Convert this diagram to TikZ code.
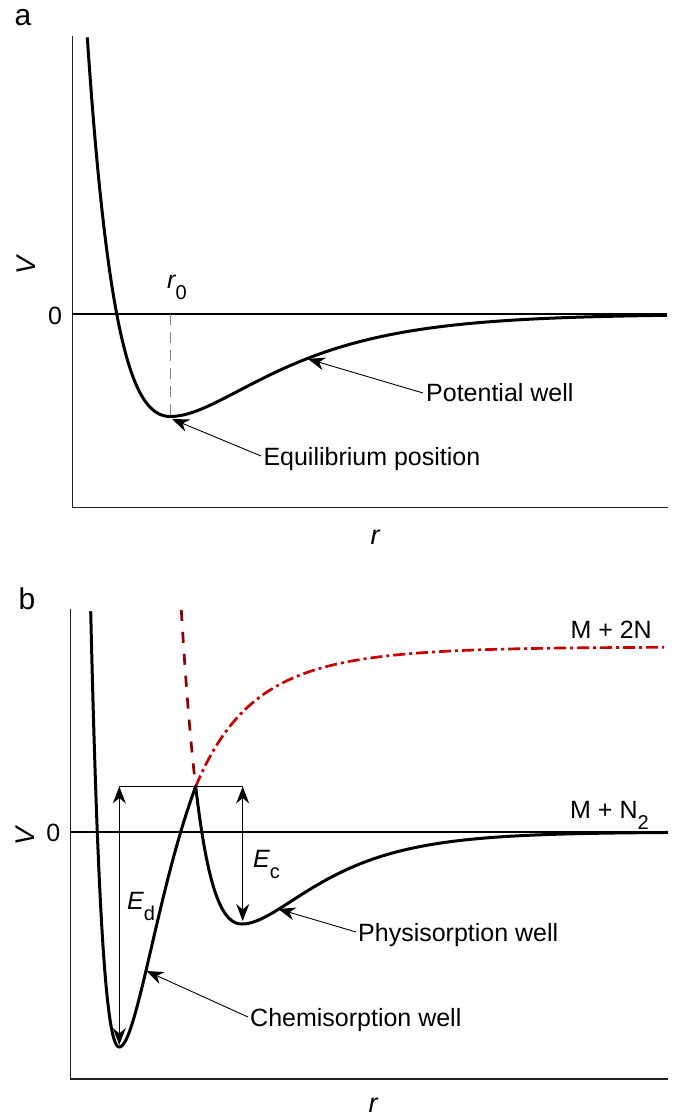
\documentclass[tikz,border=0pt]{standalone}
\usepackage{fontspec}
\setmainfont{Liberation Sans}
\usetikzlibrary{arrows.meta}
\definecolor{dred}{HTML}{8B0000}
\definecolor{mred}{HTML}{C80000}
\definecolor{axgray}{HTML}{222222}
\newcommand{\sbs}[1]{\raisebox{-11pt}{\fontsize{20}{20}\selectfont #1}}
\begin{document}
\begin{tikzpicture}[x=1pt,y=-1pt,
  curve/.style={line width=3pt,line join=round},
  axisline/.style={line width=1.4pt,draw=axgray},
  zeroline/.style={line width=1.2pt},
  pointer/.style={line width=0.9pt,-{Stealth[length=17pt,width=13pt,inset=5.5pt]}},
  earrow/.style={line width=1.3pt,{Stealth[length=17pt,width=13pt,inset=5.5pt]}-{Stealth[length=17pt,width=13pt,inset=5.5pt]}},
  txt/.style={font=\fontsize{25}{30}\selectfont,inner sep=0pt},
  axlbl/.style={font=\fontsize{27}{32}\selectfont,inner sep=0pt},
  panel/.style={font=\fontsize{30}{36}\selectfont,inner sep=0pt},
  r0dash/.style={line width=1.2pt,draw=gray,dash pattern=on 11pt off 7pt},
  reddash/.style={line width=2.7pt,draw=dred,dash pattern=on 11pt off 11pt},
  reddashdot/.style={line width=2.7pt,draw=mred,dash pattern=on 12pt off 4pt on 3pt off 4pt}
]
\useasboundingbox (0,0) rectangle (676,1118);

% ---------------- panel a ----------------
\node[panel] (pa) at (23,18) {a};
\coordinate (aTop) at (72.3,36);
\coordinate (aO) at (72.3,507.3);
\coordinate (aR) at (668,507.3);
\draw[axisline] (aTop) -- (aO) -- (aR);
\coordinate (aZ0) at (72.3,314);
\coordinate (aZ1) at (667,314);
\draw[zeroline] (aZ0) -- (aZ1);
\node[txt] (a0) at (55,316) {0};
\node[axlbl,rotate=90] (aV) at (26,265) {\itshape V};
\node[axlbl] (ar) at (375,537) {\itshape r};

\draw[curve] plot[domain=87.3:170.5,samples=80] (\x,{314-102.5*((1-exp(0.0129*(170.5-\x)))*(1-exp(0.0129*(170.5-\x)))-1)})
  -- plot[domain=170.5:667,samples=120] (\x,{314-102.5*((1-exp(-0.0102*(\x-170.5)))*(1-exp(-0.0102*(\x-170.5)))-1)});

\coordinate (r0top) at (170.5,314);
\coordinate (r0bot) at (170.5,416.5);
\draw[r0dash] (r0top) -- (r0bot);
\node[txt,anchor=base west] (r0) at (167,288) {\itshape r\sbs{\upshape 0}};

\node[txt,anchor=base west] (tpw) at (426,401.5) {Potential well};
\coordinate (pwS) at (423,393);
\coordinate (pwE) at (308,359);
\draw[pointer] (pwS) -- (pwE);

\node[txt,anchor=base west] (teq) at (263.3,465) {Equilibrium position};
\coordinate (eqS) at (261,456);
\coordinate (eqE) at (172,419);
\draw[pointer] (eqS) -- (eqE);

% ---------------- panel b ----------------
\node[panel] (pb) at (27,599) {b};
\coordinate (bTop) at (70.7,609);
\coordinate (bO) at (70.7,1079);
\coordinate (bR) at (668,1079);
\draw[axisline] (bTop) -- (bO) -- (bR);
\coordinate (bZ0) at (70.7,832);
\coordinate (bZ1) at (668,832);
\draw[zeroline] (bZ0) -- (bZ1);
\node[txt] (b0) at (53.3,833) {0};
\node[axlbl,rotate=90] (bV) at (25,836) {\itshape V};
\node[axlbl] (br) at (373,1105) {\itshape r};

% red continuations
\draw[reddash] plot[domain=181.3:195.7,samples=30] (\x,{832-92*((1-exp(0.01725*(242-\x)))*(1-exp(0.01725*(242-\x)))-1)});
\draw[reddashdot] plot[domain=195.7:664,samples=150] (\x,{647+139.5*(0.4*exp(-0.025*(\x-195.7))+0.6*exp(-0.012*(\x-195.7)))});

% black curve
\draw[curve] plot[domain=90.7:119.3,samples=60] (\x,{1047-400*(1-exp(0.025*(119.3-\x)))*(1-exp(0.025*(119.3-\x)))})
  -- plot[domain=119.3:195.7,samples=60] (\x,{1047-400*(1-exp(-0.02153*(\x-119.3)))*(1-exp(-0.02153*(\x-119.3)))})
  -- plot[domain=195.7:242,samples=40] (\x,{832-92*((1-exp(0.01725*(242-\x)))*(1-exp(0.01725*(242-\x)))-1)})
  -- plot[domain=242:668,samples=120] (\x,{832-92*((1-exp(-0.014*(\x-242)))*(1-exp(-0.014*(\x-242)))-1)});

% energy levels
\coordinate (hl) at (119.3,786.5);
\coordinate (hr) at (242.7,786.5);
\draw[line width=1.3pt] (hl) -- (hr);
\coordinate (edb) at (119.3,1045);
\coordinate (ecb) at (242.7,921);
\draw[earrow] (edb) -- (hl);
\draw[earrow] (ecb) -- (hr);
\node[txt,anchor=base west] (Ed) at (127,909) {\itshape E\sbs{\upshape d}};
\node[txt,anchor=base west] (Ec) at (253,867) {\itshape E\sbs{\upshape c}};

\node[txt,anchor=base east] (m2n) at (652,638) {M + 2N};
\node[txt,anchor=base west] (mn2) at (570,818) {M + N\sbs{2}};

\node[txt,anchor=base west] (tphys) at (358,941) {Physisorption well};
\coordinate (phS) at (356,932);
\coordinate (phE) at (278.3,909);
\draw[pointer] (phS) -- (phE);

\node[txt,anchor=base west] (tchem) at (250,1026) {Chemisorption well};
\coordinate (chS) at (248,1017);
\coordinate (chE) at (146.5,971);
\draw[pointer] (chS) -- (chE);
\end{tikzpicture}
\end{document}
